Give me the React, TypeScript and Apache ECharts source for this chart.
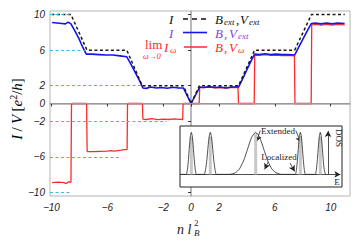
import React, { useEffect, useRef } from "react";
import * as echarts from "echarts";

// ---- Main panel data ----
const X_TICKS = [-10, -6, -2, 0, 2, 6, 10];
const Y_TICKS = [-10, -6, -2, 0, 2, 6, 10];

// ideal (B_ext, V_ext) – black dashed
const idealX = [-10, -8.6, -7.45, -4.6, -3.5, -0.55, 0, 0.6, 3.4, 4.55, 7.42, 8.62, 11.0];
const idealY = [10, 10, 6, 6, 2, 2, 0, 2, 2, 6, 6, 10, 10];

// (B, V_ext) – blue
const blueX = [-9.95, -9.6, -9.25, -9.0, -8.8, -8.6, -8.3, -8.0, -7.75, -7.5, -7.1, -6.6, -6.1, -5.6, -5.1, -4.6, -4.3, -4.0, -3.7, -3.45, -3.2, -2.9, -2.5, -2.1, -1.7, -1.3, -0.9, -0.55, 0, 0.62, 0.9, 1.3, 1.7, 2.1, 2.5, 2.9, 3.4, 3.7, 4.0, 4.3, 4.55, 4.9, 5.3, 5.7, 6.1, 6.5, 6.9, 7.42, 7.7, 8.0, 8.3, 8.62, 8.9, 9.3, 9.7, 10.1, 10.5, 11.0];
const blueY = [9.1, 9.05, 9.0, 8.95, 9.15, 8.95, 8.1, 7.2, 6.3, 5.55, 5.55, 5.5, 5.45, 5.45, 5.35, 5.25, 4.4, 3.5, 2.6, 1.75, 1.7, 1.85, 1.75, 1.8, 1.72, 1.82, 1.75, 1.75, 0, 1.85, 1.8, 1.9, 1.8, 1.85, 1.75, 1.85, 1.85, 2.8, 3.8, 4.8, 5.55, 5.5, 5.6, 5.5, 5.55, 5.5, 5.5, 5.45, 6.3, 7.2, 8.1, 9.0, 9.05, 8.95, 9.05, 8.95, 9.05, 9.0];

// (B, V_omega) – red
const redX = [-9.95, -9.5, -9.1, -8.95, -8.75, -8.6, -8.56, -7.48, -7.44, -7.0, -6.5, -6.0, -5.7, -5.5, -5.0, -4.58, -4.55, -3.48, -3.45, -3.2, -2.8, -2.4, -2.0, -1.6, -1.2, -0.8, -0.6, -0.57, 0.58, 0.62, 0.9, 1.3, 1.7, 2.1, 2.5, 2.9, 3.36, 3.4, 4.52, 4.56, 4.9, 5.3, 5.7, 6.1, 6.5, 6.9, 7.4, 7.44, 8.6, 8.64, 8.9, 9.3, 9.7, 10.1, 10.5, 11.0];
const redY = [-8.9, -8.85, -8.9, -9.0, -8.8, -8.85, 0, 0, -5.4, -5.42, -5.38, -5.35, -5.3, -5.35, -5.25, -5.15, 0, 0, -1.75, -1.8, -1.7, -1.82, -1.75, -1.8, -1.72, -1.78, -1.8, 0, 0, 1.82, 1.78, 1.85, 1.75, 1.8, 1.72, 1.82, 1.8, 0, 0, 5.45, 5.4, 5.5, 5.4, 5.45, 5.38, 5.4, 5.35, 0, 0, 8.85, 8.9, 8.8, 8.9, 8.8, 8.9, 8.85];

// cyan quantised reference levels and where they stop
const refLevels = [10, 6, 2, -2, -6, -10];
const refEnds = [-8.6, -7.45, -3.5, -1.76, -5.1, -8.55];

// ---- Inset (DOS sketch) data ----
const dosE = [
  0, 3.8, 4.6, 5.2, 5.8, 6.4, 7, 7.6, 8.2, 8.8, 9.4, 10.2,
  14.9, 15.8, 16.6, 17.3, 18.0, 18.7, 19.4, 20.1, 20.8, 21.6, 22.5,
  30.7, 34.2, 36.7, 39.2, 41.7, 44.2, 46.7, 49.2, 51.7, 54.2, 56.7, 59.2, 62.7,
  71.1, 71.9, 72.5, 73.1, 73.7, 74.3, 74.9, 75.5, 76.1, 76.7, 77.5,
  83.4, 84.2, 84.8, 85.4, 86.0, 86.6, 87.2, 87.8, 88.4, 89.0, 89.8,
];
const dosV = [
  0, 0, 0.12, 0.35, 0.65, 0.9, 1, 0.9, 0.65, 0.35, 0.12, 0,
  0, 0.12, 0.35, 0.65, 0.9, 1, 0.9, 0.65, 0.35, 0.12, 0,
  0, 0.04, 0.13, 0.32, 0.6, 0.88, 1, 0.88, 0.6, 0.32, 0.13, 0.04, 0,
  0, 0.12, 0.35, 0.65, 0.9, 1, 0.9, 0.65, 0.35, 0.12, 0,
  0, 0.12, 0.35, 0.65, 0.9, 1, 0.9, 0.65, 0.35, 0.12, 0,
];
const extE = [7, 18.7, 46.7, 74.3, 86.6];
const extV = [0.9, 0.9, 0.97, 0.9, 0.9];
// arrows in inset: [fromE, fromV, toE, toV]
const insetArrows = [
  [0, 0, 99, 0],
  [91.4, 0, 91.4, 1.03],
  [49.5, 1.04, 47.2, 0.78],
  [71.5, 1.04, 74.6, 0.76],
  [54.3, 0.29, 52.3, 0.12],
  [67.9, 0.27, 70.8, 0.07],
];

const X_MIN = -10.1;
const X_MAX = 11.38;

const zip = (a: number[], b: number[]) => a.map((v, i) => [v, b[i]]);
const fmt = (v: number) => (v < 0 ? "\u2212" + Math.abs(v) : String(v));

const SERIF = "'Liberation Serif', 'DejaVu Serif', serif";
const PURPLE = "#8a3cf0";
const RED = "#ff2a2a";
const BLUE = "#1414ee";

const txt = (x: number, y: number, text: string, font: string, fill: string, extra: any = {}) => ({
  type: "text", x, y, z: 10,
  style: { text, font, fill, verticalAlign: "middle", ...extra },
});
const MAIN = `italic 13px ${SERIF}`;
const SUB = `italic 9px ${SERIF}`;

export default function App() {
  const ref = useRef<HTMLDivElement>(null);
  useEffect(() => {
    if (!ref.current) return;
    const chart = echarts.init(ref.current, null, { renderer: "svg" });
    const option: any = {
      animation: false,
      grid: [
        { left: 50, top: 11, width: 300, height: 185, show: true, borderColor: "#b4b4b4", borderWidth: 1, z: 0 },
        { left: 180, top: 126, width: 162, height: 61, show: true, borderColor: "#222", borderWidth: 1, backgroundColor: "#fff", z: 5 },
      ],
      xAxis: [
        {
          type: "value", gridIndex: 0, min: X_MIN, max: X_MAX,
          axisLine: { show: true, lineStyle: { color: "#a8a8a8", width: 1.6 } },
          axisTick: { show: true, customValues: X_TICKS, length: 3, lineStyle: { color: "#333" } },
          axisLabel: { customValues: X_TICKS, formatter: fmt, margin: 6, fontSize: 10, fontStyle: "italic", fontFamily: "'Liberation Sans', Arial, sans-serif", color: "#222" },
          splitLine: { show: false },
        },
        { type: "value", gridIndex: 1, min: 0, max: 100, show: false },
      ],
      yAxis: [
        {
          type: "value", gridIndex: 0, min: -10.4, max: 10.4,
          axisLine: { show: true, lineStyle: { color: "#a8a8a8", width: 1.6 } },
          axisTick: { show: true, customValues: Y_TICKS, length: 3, lineStyle: { color: "#333" } },
          axisLabel: { customValues: Y_TICKS, formatter: fmt, margin: 5, fontSize: 10, fontStyle: "italic", fontFamily: "'Liberation Sans', Arial, sans-serif", color: "#222" },
          splitLine: { show: false },
        },
        { type: "value", gridIndex: 1, min: -0.3, max: 1.15, show: false },
      ],
      series: [
        {
          type: "line", xAxisIndex: 0, yAxisIndex: 0, data: [], silent: true, z: 1,
          markLine: {
            silent: true, symbol: ["none", "none"], label: { show: false },
            data: [
              [
                { coord: [X_MIN, 0], lineStyle: { color: "#9a9a9a", width: 1, type: "solid" } },
                { coord: [X_MAX, 0] },
              ],
              ...refLevels.map((lv, i) => [
                { coord: [X_MIN, lv], lineStyle: { color: "#3cb8ec", width: 1.2, type: [3, 2.5] } },
                { coord: [refEnds[i], lv] },
              ]),
            ],
          },
        },
        {
          name: "red", type: "line", xAxisIndex: 0, yAxisIndex: 0, data: zip(redX, redY),
          showSymbol: false, symbol: "none", z: 2,
          lineStyle: { color: RED, width: 1.3 },
        },
        {
          name: "blue", type: "line", xAxisIndex: 0, yAxisIndex: 0, data: zip(blueX, blueY),
          showSymbol: false, symbol: "none", z: 3,
          lineStyle: { color: BLUE, width: 1.6 },
        },
        {
          name: "ideal", type: "line", xAxisIndex: 0, yAxisIndex: 0, data: zip(idealX, idealY),
          showSymbol: false, symbol: "none", z: 4,
          lineStyle: { color: "#1a1a1a", width: 1.5, type: [3, 2.5] },
        },
        {
          type: "bar", xAxisIndex: 1, yAxisIndex: 1, data: zip(extE, extV), barWidth: 3, z: 6,
          itemStyle: { color: "#c8c8c8" }, silent: true,
        },
        {
          type: "line", xAxisIndex: 1, yAxisIndex: 1, data: zip(dosE, dosV), smooth: 0.2,
          showSymbol: false, symbol: "none", z: 7, silent: true,
          lineStyle: { color: "#222", width: 0.8 },
          markLine: {
            silent: true, symbol: ["none", "arrow"], symbolSize: [5, 6], label: { show: false },
            lineStyle: { color: "#222", width: 0.8, type: "solid" },
            data: insetArrows.map((a) => [{ coord: [a[0], a[1]] }, { coord: [a[2], a[3]] }]),
          },
        },
      ],
      graphic: [
        // y-axis title
        {
          type: "text", x: 17, y: 109, rotation: Math.PI / 2, z: 10,
          style: {
            text: "{i|I} {n|/} {i|V} {n|[}{i|e}{p|2}{n|/}{i|h}{n|]}",
            align: "center", verticalAlign: "middle",
            rich: {
              i: { fontFamily: SERIF, fontStyle: "italic", fontSize: 15, color: "#222", lineHeight: 18, verticalAlign: "middle" },
              n: { fontFamily: SERIF, fontSize: 15, color: "#222", lineHeight: 18, verticalAlign: "middle" },
              p: { fontFamily: SERIF, fontSize: 10, color: "#222", lineHeight: 18, verticalAlign: "top" },
            },
          },
        },
        // x-axis title
        txt(177, 229, "n l", `italic 14px ${SERIF}`, "#222"),
        txt(194, 223, "2", `9px ${SERIF}`, "#222"),
        txt(194, 233, "B", `italic 9px ${SERIF}`, "#222"),
        // legend row 1
        txt(169, 19, "I", MAIN, "#111"),
        { type: "line", z: 10, shape: { x1: 183, y1: 19, x2: 207, y2: 19 }, style: { stroke: "#111", lineWidth: 1.5, lineDash: [5, 4] } },
        txt(215, 19, "B", MAIN, "#111"),
        txt(224, 21.5, "ext", SUB, "#111"),
        txt(236, 19, ",", MAIN, "#111"),
        txt(240, 19, "V", MAIN, "#111"),
        txt(249, 21.5, "ext", SUB, "#111"),
        // legend row 2
        txt(169, 33.5, "I", MAIN, PURPLE),
        { type: "line", z: 10, shape: { x1: 183, y1: 32.5, x2: 207, y2: 32.5 }, style: { stroke: BLUE, lineWidth: 1.6 } },
        txt(215, 33.5, "B", MAIN, PURPLE),
        txt(224, 33.5, ",", MAIN, PURPLE),
        txt(229, 33.5, "V", MAIN, PURPLE),
        txt(238, 36, "ext", SUB, PURPLE),
        // legend row 3
        txt(145, 44.5, "lim", `13px ${SERIF}`, RED),
        txt(143, 56, "\u03c9\u21920", `italic 8px ${SERIF}`, RED),
        txt(164, 47, "I", MAIN, RED),
        txt(170, 49.5, "\u03c9", SUB, RED),
        { type: "line", z: 10, shape: { x1: 184, y1: 47, x2: 207, y2: 47 }, style: { stroke: RED, lineWidth: 1.5 } },
        txt(215, 47.5, "B", MAIN, RED),
        txt(224, 47.5, ",", MAIN, RED),
        txt(229, 47.5, "V", MAIN, RED),
        txt(238, 50, "\u03c9", SUB, RED),
        // inset labels
        { type: "text", x: 278, y: 130.5, z: 20, style: { text: "Extended", font: `9px ${SERIF}`, fill: "#222", align: "center", verticalAlign: "middle" } },
        { type: "text", x: 279, y: 157, z: 20, style: { text: "Localized", font: `9px ${SERIF}`, fill: "#222", align: "center", verticalAlign: "middle" } },
        { type: "text", x: 339, y: 138, rotation: -Math.PI / 2, z: 20, style: { text: "DOS", font: `9px ${SERIF}`, fill: "#222", align: "center", verticalAlign: "middle" } },
        { type: "text", x: 337, y: 182, z: 20, style: { text: "E", font: `9px ${SERIF}`, fill: "#222", align: "center", verticalAlign: "middle" } },
      ],
    };
    chart.setOption(option);
    return () => chart.dispose();
  }, []);
  return <div ref={ref} style={{ width: 357, height: 242, position: "absolute", left: 0, top: 0 }} />;
}
